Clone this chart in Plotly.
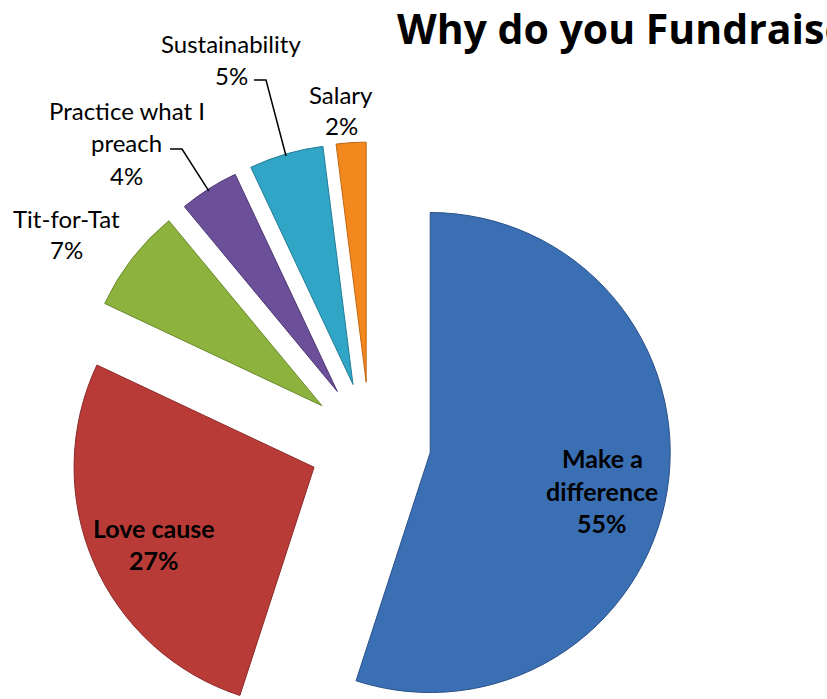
import math
import plotly.graph_objects as go

# ---- data ----
categories = ["Make a difference", "Love cause", "Tit-for-Tat",
              "Practice what I preach", "Sustainability", "Salary"]
values = [55, 27, 7, 4, 5, 2]
colors = ["#3b6fb4", "#b93b38", "#8db23e", "#6c4f99", "#31a5c5", "#f3881f"]
edge_colors = ["#2a5189", "#8a2a28", "#6a8a2c", "#4e3773", "#237d97", "#c06612"]
title_text = "Why do you Fundraise?"

# ---- layout geometry (pixels) ----
W, H = 827, 760          # figure taller than the window; bottom is cropped
CX, CY = 370, 443        # pie centre
R = 240                  # radius
PULL = 0.254

half = R * (1 + PULL)
dom_x = [(CX - half) / W, (CX + half) / W]
dom_y = [1 - (CY + half) / H, 1 - (CY - half) / H]

FONT = "Lato, 'Open Sans', sans-serif"
TITLE_FONT = "'Open Sans', Lato, sans-serif"

fig = go.Figure(go.Pie(
    labels=categories,
    values=values,
    sort=False,
    direction="clockwise",
    rotation=0,
    pull=[PULL] * len(values),
    marker=dict(colors=colors, line=dict(color=edge_colors, width=1)),
    textinfo="none",
    hoverinfo="label+percent",
    showlegend=False,
    domain=dict(x=dom_x, y=dom_y),
))


def px(x, y):
    return x / W, 1 - y / H


# slice geometry computed from data (same rule plotly uses)
total = sum(values)
mid_angle = []
acc = 0
for v in values:
    mid_angle.append((acc + v / 2) / total * 360)
    acc += v


def arc_mid(i):
    a = math.radians(mid_angle[i])
    dx, dy = math.sin(a), -math.cos(a)
    ax, ay = CX + PULL * R * dx, CY + PULL * R * dy
    return ax + R * dx, ay + R * dy


annotations = []


def label(lines, x, y, step, size, bold=False):
    for k, t in enumerate(lines):
        xx, yy = px(x, y + k * step)
        txt = f"<b>{t}</b>" if bold else t
        annotations.append(dict(
            x=xx, y=yy, xref="paper", yref="paper", text=txt, showarrow=False,
            xanchor="center", yanchor="middle",
            font=dict(family=FONT, size=size, color="#000000")))


pct = [f"{v}%" for v in values]
label(["Make a", "difference", pct[0]], 602, 458, 32.5, 25, bold=True)
label(["Love cause", pct[1]], 154, 528, 32, 25, bold=True)
label(["Tit-for-Tat", pct[2]], 66, 218, 31, 24)
label(["Practice what I", "preach", pct[3]], 127, 110, 32.5, 24)
label(["Sustainability", pct[4]], 231, 43, 32, 24)
label(["Salary", pct[5]], 341, 94, 31, 24)

# leader lines: from the label to the middle of the slice's outer edge
shapes = []
leaders = {4: (254, 80, 266), 3: (170, 149, 182)}
for i, (sx, sy, ex) in leaders.items():
    tx, ty = arc_mid(i)
    p0 = px(sx, sy)
    p1 = px(ex, sy)
    p2 = px(tx, ty + 2)
    shapes.append(dict(
        type="path", xref="paper", yref="paper",
        path=f"M {p0[0]},{p0[1]} L {p1[0]},{p1[1]} L {p2[0]},{p2[1]}",
        line=dict(color="#000000", width=1.5)))

fig.update_layout(
    width=W, height=H,
    margin=dict(l=0, r=0, t=0, b=0),
    paper_bgcolor="white", plot_bgcolor="white",
    title=dict(text=f"<b>{title_text}</b>", x=397 / W, xanchor="left",
               y=1 - 30 / H, yanchor="middle", xref="paper", yref="container",
               font=dict(family=TITLE_FONT, size=41, color="#000000")),
    annotations=annotations,
    shapes=shapes,
)

fig.write_html(
    "out.html",
    config={"displayModeBar": False},
    post_script=(
        "var gd=document.getElementById('{plot_id}');"
        "gd.parentNode.style.height='699px';"
        "gd.parentNode.style.overflow='hidden';"
        "document.body.style.margin='0';"
        "document.body.style.overflow='hidden';"
    ),
)
